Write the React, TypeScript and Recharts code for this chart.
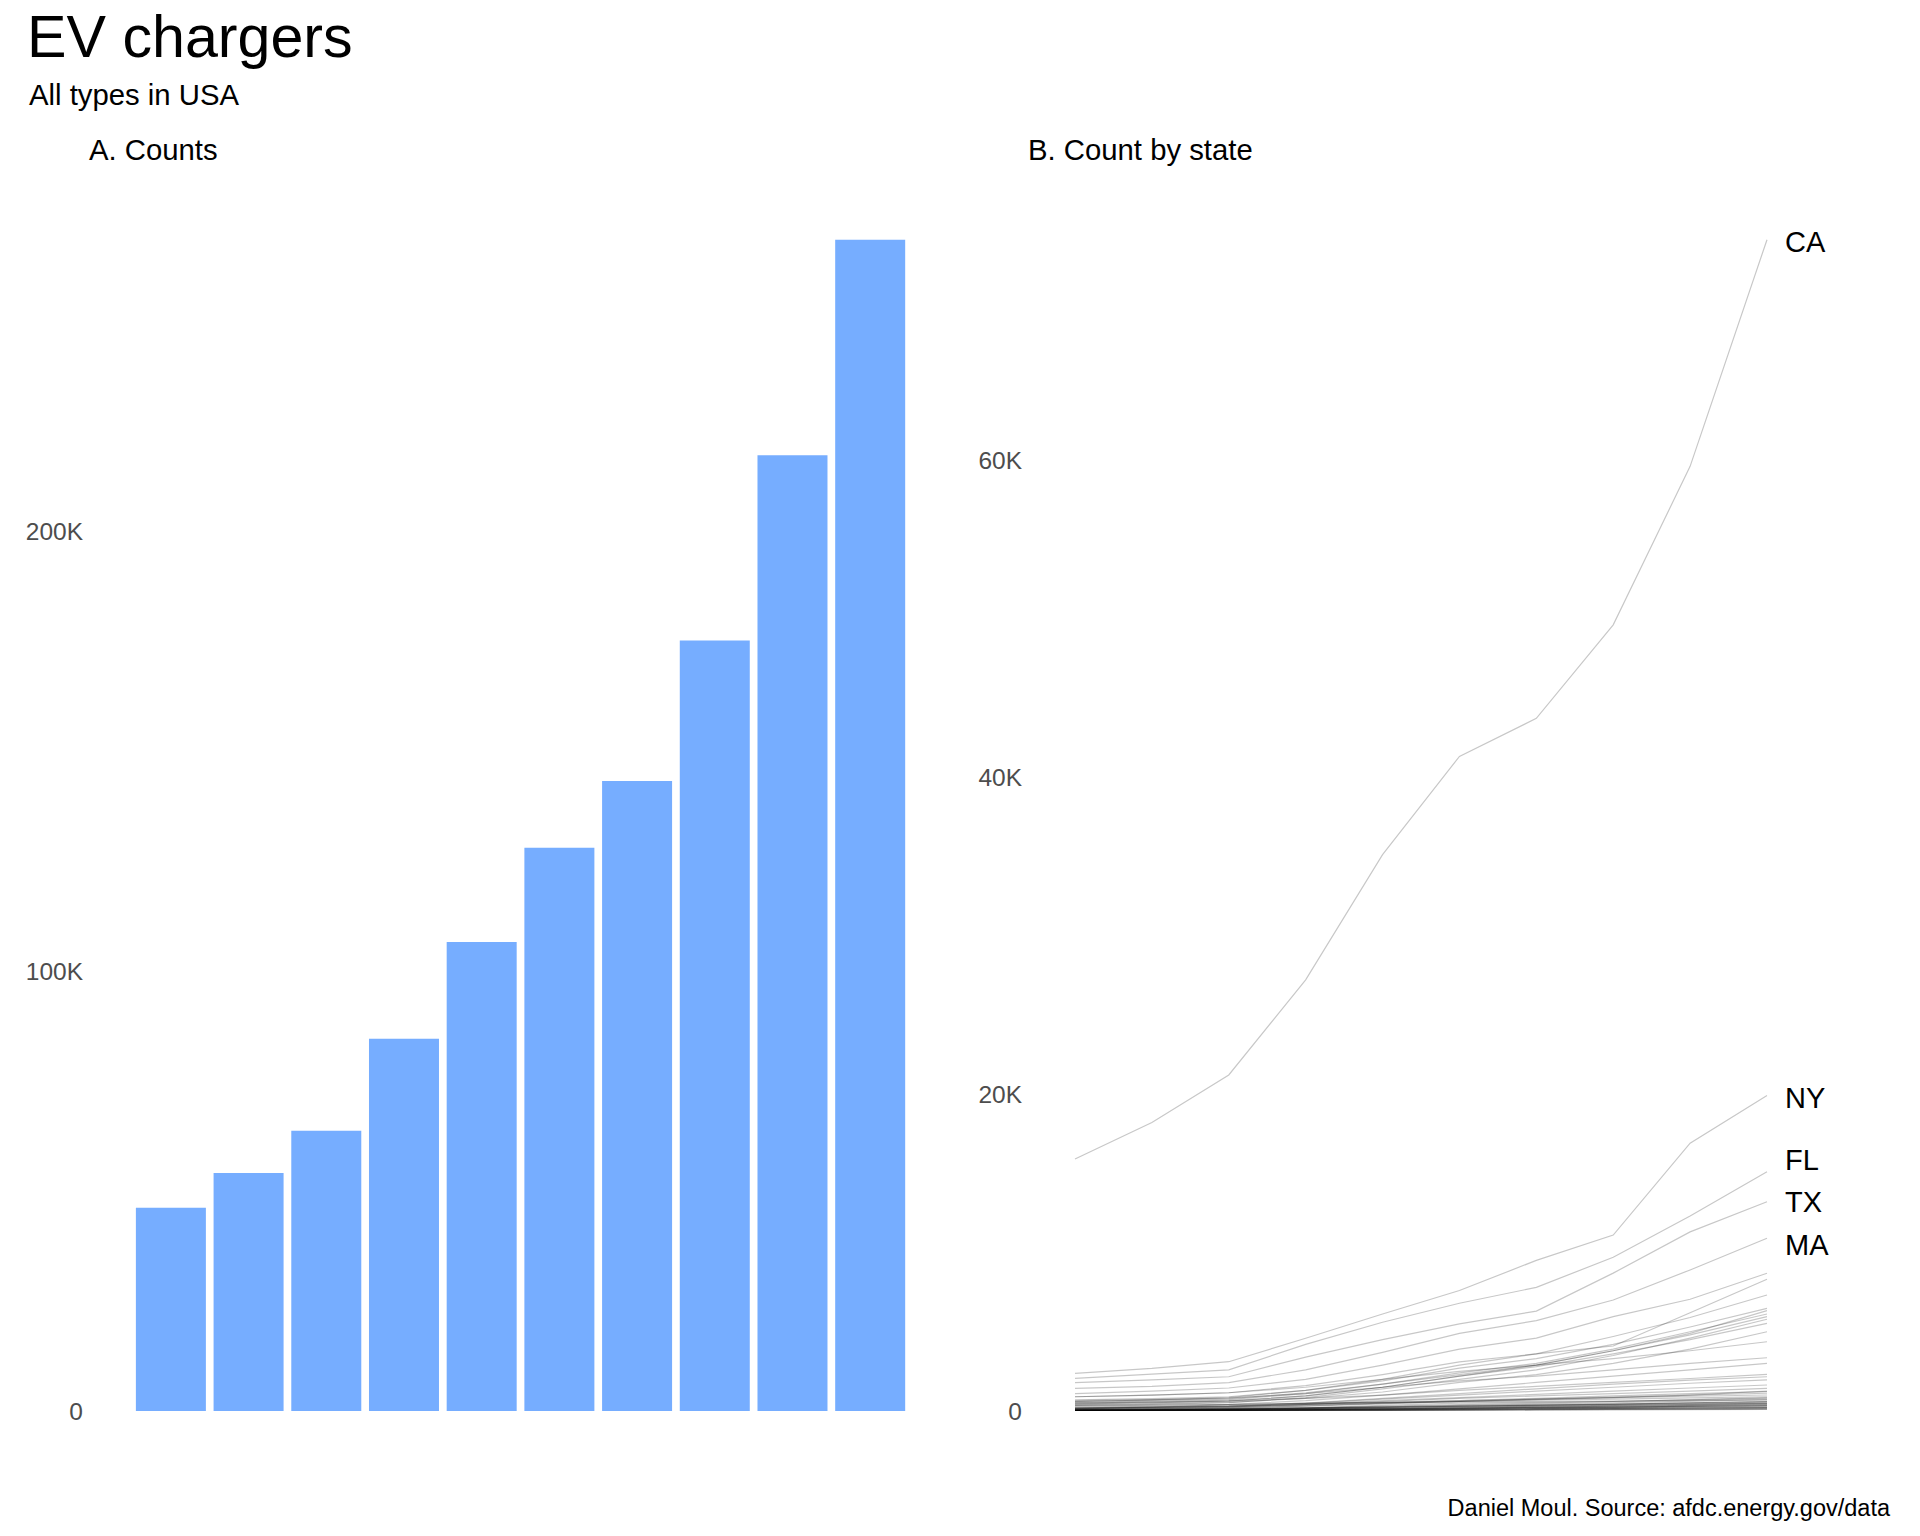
import React from 'react';
import { BarChart, Bar, XAxis, YAxis, LineChart, Line } from 'recharts';

// ---------- data ----------
const years = ['2013', '2014', '2015', '2016', '2017', '2018', '2019', '2020', '2021', '2022'];
const totalChargers = [46200, 54100, 63700, 84600, 106600, 128000, 143200, 175100, 217200, 266200];

const barTicks = [0, 100000, 200000];
const lineTicks = [0, 20000, 40000, 60000];

const caCounts = [15900, 18200, 21200, 27200, 35100, 41300, 43700, 49600, 59600, 73900];
const nyCounts = [2380, 2690, 3110, 4590, 6120, 7600, 9500, 11100, 16900, 19900];
const flCounts = [2060, 2330, 2600, 4200, 5600, 6800, 7800, 9700, 12300, 15100];
const txCounts = [1790, 1960, 2160, 3400, 4500, 5500, 6300, 8700, 11300, 13200];
const maCounts = [1430, 1550, 1790, 2600, 3700, 4900, 5700, 7000, 8900, 10900];

const labeledStates = ['CA', 'NY', 'FL', 'TX', 'MA'];
const labeledCounts = [caCounts, nyCounts, flCounts, txCounts, maCounts];

const otherStates = [
  'WA', 'GA', 'CO', 'IL', 'NJ', 'MD', 'NC', 'VA', 'PA', 'MI', 'OR', 'AZ', 'OH', 'TN', 'MN', 'CT', 'UT',
  'MO', 'IN', 'WI', 'SC', 'HI', 'NV', 'AL', 'KY', 'LA', 'OK', 'KS', 'IA', 'NH', 'VT', 'DC', 'RI', 'NM',
  'ME', 'DE', 'NE', 'AR', 'ID', 'MS', 'MT', 'WV', 'SD', 'ND', 'WY', 'AK',
];
const otherCounts = [
  [1100, 1250, 1450, 2000, 2900, 3900, 4600, 5950, 7050, 8690],
  [900, 1000, 1150, 1600, 2300, 3100, 3600, 4100, 6200, 8310],
  [600, 700, 850, 1300, 2000, 2900, 3600, 4700, 5900, 7320],
  [700, 780, 900, 1300, 1900, 2700, 3300, 4200, 5300, 6480],
  [500, 560, 650, 950, 1500, 2200, 2900, 3800, 4900, 6330],
  [550, 620, 720, 1100, 1700, 2400, 3000, 3900, 5000, 6120],
  [600, 680, 780, 1150, 1700, 2300, 2900, 3800, 4800, 5950],
  [350, 420, 520, 850, 1400, 2000, 2600, 3500, 4600, 5790],
  [450, 520, 620, 950, 1500, 2200, 2800, 3600, 4500, 5530],
  [400, 460, 540, 800, 1200, 1800, 2300, 3000, 3900, 5000],
  [900, 1000, 1150, 1500, 2000, 2500, 2900, 3300, 3800, 4370],
  [650, 720, 820, 1100, 1500, 1900, 2200, 2600, 3000, 3360],
  [300, 350, 420, 650, 1000, 1400, 1800, 2200, 2600, 3010],
  [500, 560, 620, 800, 1000, 1300, 1550, 1800, 2050, 2310],
  [200, 250, 320, 500, 800, 1100, 1400, 1700, 1950, 2160],
  [200, 240, 300, 480, 750, 1000, 1250, 1500, 1750, 1960],
  [150, 200, 260, 420, 650, 850, 1050, 1250, 1450, 1640],
  [150, 190, 250, 400, 600, 800, 950, 1100, 1250, 1430],
  [120, 150, 200, 320, 500, 650, 800, 950, 1100, 1220],
  [100, 130, 180, 300, 450, 600, 750, 880, 1000, 1120],
  [250, 280, 320, 420, 550, 650, 750, 850, 930, 1010],
  [350, 380, 410, 470, 530, 600, 680, 750, 830, 900],
  [180, 220, 270, 370, 480, 600, 720, 850, 1000, 1250],
  [80, 100, 130, 200, 300, 400, 500, 600, 720, 850],
  [70, 90, 120, 180, 260, 350, 430, 520, 620, 720],
  [60, 80, 100, 150, 220, 290, 360, 430, 510, 600],
  [60, 80, 110, 200, 350, 500, 550, 600, 700, 800],
  [150, 250, 400, 500, 550, 580, 600, 620, 650, 700],
  [60, 80, 110, 160, 230, 300, 370, 440, 520, 600],
  [40, 60, 80, 120, 170, 230, 290, 350, 420, 500],
  [80, 100, 130, 180, 240, 300, 350, 400, 450, 500],
  [100, 120, 150, 200, 260, 320, 380, 440, 500, 560],
  [60, 80, 100, 140, 190, 250, 300, 350, 400, 460],
  [40, 55, 70, 100, 140, 190, 240, 300, 360, 430],
  [40, 55, 70, 100, 140, 190, 240, 290, 340, 400],
  [30, 45, 60, 90, 130, 170, 210, 250, 290, 330],
  [40, 50, 60, 90, 130, 170, 210, 250, 290, 330],
  [30, 40, 55, 80, 110, 150, 200, 250, 300, 350],
  [30, 40, 50, 70, 100, 130, 170, 210, 250, 290],
  [20, 30, 40, 60, 80, 110, 140, 170, 200, 230],
  [20, 30, 40, 55, 75, 100, 130, 160, 190, 220],
  [20, 30, 40, 55, 75, 100, 130, 160, 190, 220],
  [15, 20, 30, 45, 60, 80, 100, 120, 140, 160],
  [10, 15, 20, 30, 45, 60, 80, 100, 120, 140],
  [10, 15, 20, 30, 45, 60, 80, 100, 120, 140],
  [10, 15, 20, 25, 35, 45, 55, 65, 80, 100],
];

const allStates = [...labeledStates, ...otherStates];
const allCounts = [...labeledCounts, ...otherCounts];

// ---------- derived tables ----------
const barData = years.map((year, i) => ({ year, total: totalChargers[i] }));
const lineData = years.map((year, i) => {
  const row: Record<string, any> = { year };
  allStates.forEach((code, k) => {
    row[code] = allCounts[k][i];
  });
  return row;
});

// ---------- styles ----------
const FONT = '"Liberation Sans", Arial, Helvetica, sans-serif';
const TICK_STYLE = { fontSize: 24.5, fill: '#4D4D4D', fontFamily: FONT };
const BAR_COLOR = '#76ADFF';
const labelNudgeY: Record<string, number> = { CA: 2, NY: 2, FL: -12, TX: 0, MA: 7 };

const fmtK = (v: number) => (v === 0 ? '0' : `${v / 1000}K`);

function makeEndLabel(code: string) {
  return (p: any) => {
    const last = p.index === years.length - 1;
    if (!last) return <g key={`${code}-d-${p.index}`} />;
    return (
      <text
        key={`${code}-lab`}
        x={p.cx + 18}
        y={p.cy + (labelNudgeY[code] || 0)}
        dominantBaseline="central"
        fontSize={29}
        fontFamily={FONT}
        fill="#000"
      >
        {code}
      </text>
    );
  };
}

export default function App() {
  return (
    <div style={{ position: 'absolute', left: 0, top: 0, width: 1920, height: 1536, background: '#fff' }}>
      <svg
        width={1920}
        height={1536}
        style={{ position: 'absolute', left: 0, top: 0, pointerEvents: 'none' }}
        fontFamily={FONT}
      >
        <text x={27} y={57} fontSize={59.2} fill="#000">EV chargers</text>
        <text x={29} y={105} fontSize={29.3} fill="#000">All types in USA</text>
        <text x={89} y={160} fontSize={29.3} fill="#000">A. Counts</text>
        <text x={1028} y={160} fontSize={29.3} fill="#000">B. Count by state</text>
        <text x={1890} y={1516} fontSize={23.5} fill="#000" textAnchor="end">
          Daniel Moul. Source: afdc.energy.gov/data
        </text>
      </svg>

      <div style={{ position: 'absolute', left: 0, top: 0 }}>
        <BarChart
          width={940}
          height={1536}
          data={barData}
          margin={{ top: 179, right: 31, bottom: 125, left: 0 }}
          barCategoryGap="5%"
        >
          <XAxis dataKey="year" hide />
          <YAxis
            width={132}
            domain={[0, 280000]}
            ticks={barTicks}
            tickFormatter={fmtK}
            axisLine={false}
            tickLine={false}
            tickSize={0}
            tickMargin={49}
            tick={TICK_STYLE}
            allowDataOverflow
          />
          <Bar dataKey="total" fill={BAR_COLOR} isAnimationActive={false} />
        </BarChart>
      </div>

      <div style={{ position: 'absolute', left: 940, top: 0 }}>
        <LineChart
          width={980}
          height={1536}
          data={lineData}
          margin={{ top: 143, right: 153, bottom: 125, left: 0 }}
        >
          <XAxis dataKey="year" hide padding={{ left: 0, right: 0 }} />
          <YAxis
            width={135}
            domain={[0, 80000]}
            ticks={lineTicks}
            tickFormatter={fmtK}
            axisLine={false}
            tickLine={false}
            tickSize={0}
            tickMargin={53}
            tick={TICK_STYLE}
            allowDataOverflow
          />
          {allStates.map((code) => (
            <Line
              key={code}
              type="linear"
              dataKey={code}
              stroke="#000"
              strokeOpacity={0.22}
              strokeWidth={1.2}
              dot={labeledStates.includes(code) ? makeEndLabel(code) : false}
              activeDot={false}
              isAnimationActive={false}
            />
          ))}
        </LineChart>
      </div>
    </div>
  );
}
